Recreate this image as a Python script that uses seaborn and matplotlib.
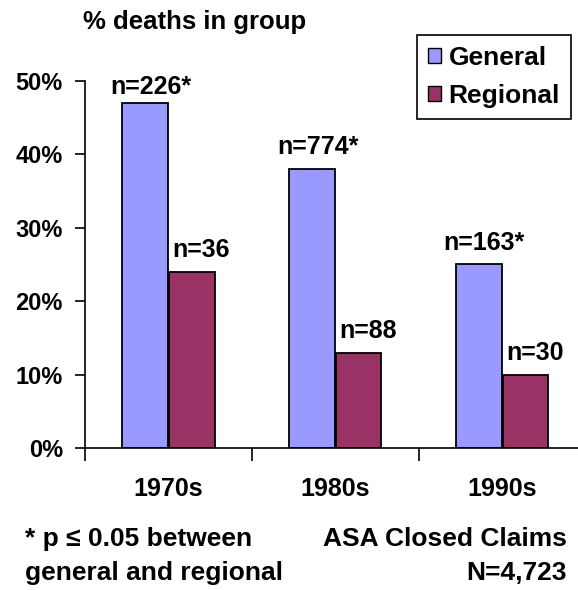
import pandas as pd
import matplotlib
matplotlib.use("Agg")
import matplotlib.pyplot as plt
import seaborn as sns
from matplotlib.patches import Patch

# data
decades = ["1970s", "1980s", "1990s"]
general_pct = [47, 38, 25]
regional_pct = [24, 13, 10]
general_n = ["n=226*", "n=774*", "n=163*"]
regional_n = ["n=36", "n=88", "n=30"]
groups = ["General", "Regional"]
colors = ["#9999FF", "#993366"]

df = pd.DataFrame({
    "decade": decades * 2,
    "pct": general_pct + regional_pct,
    "group": [groups[0]] * 3 + [groups[1]] * 3,
})

sns.set_style("white")
plt.rcParams["font.family"] = ["Liberation Sans", "DejaVu Sans"]
plt.rcParams["font.weight"] = "bold"
for k in ["text.color", "axes.labelcolor", "xtick.color", "ytick.color"]:
    plt.rcParams[k] = "black"

W, H = 578, 590
fig = plt.figure(figsize=(W / 100, H / 100), dpi=100)
# axes runs past the right edge like the original
ax = fig.add_axes([85 / W, 142 / H, 500.5 / W, 367.3 / H])

sns.barplot(data=df, x="decade", y="pct", hue="group", palette=colors,
            width=0.56, gap=0.02, edgecolor="black", linewidth=1.3,
            saturation=1, ax=ax, legend=False)

# n labels over the bars (slightly right of centre, as in the original)
for cont, labs, dx in zip(ax.containers, [general_n, regional_n], [4, 7]):
    for i, (bar, lab) in enumerate(zip(cont.patches, labs)):
        dy = 3 if bar.get_height() > 45 else 7
        ax.annotate(lab, (bar.get_x() + bar.get_width() / 2, bar.get_height()),
                    xytext=(dx, dy), textcoords="offset points",
                    ha="center", va="bottom", fontsize=18, fontweight="bold",
                    annotation_clip=False)

ax.set_xlim(-0.5, 2.5)
ax.set_ylim(0, 50)
ax.set_yticks([0, 10, 20, 30, 40, 50])
ax.set_yticklabels([f"{v}%" for v in [0, 10, 20, 30, 40, 50]])
ax.set_xlabel("")
ax.set_ylabel("")
sns.despine(ax=ax)
for s in ["left", "bottom"]:
    ax.spines[s].set_linewidth(1.2)
    ax.spines[s].set_color("black")

ax.tick_params(axis="y", direction="out", length=7, width=1.2, pad=9,
               labelsize=17, left=True)
# category labels without ticks, ticks at group boundaries
ax.tick_params(axis="x", which="major", length=0, pad=21, labelsize=18)
ax.set_xticks([-0.5, 0.5, 1.5], minor=True)
ax.tick_params(axis="x", which="minor", direction="out", length=9, width=1.2,
               bottom=True)

handles = [Patch(facecolor=c, edgecolor="black", linewidth=1) for c in colors]
leg = fig.legend(handles, groups, loc="upper left",
                 bbox_to_anchor=(417 / W, 1 - 35 / H), bbox_transform=fig.transFigure,
                 fancybox=False, edgecolor="black", framealpha=1,
                 handlelength=0.5, handleheight=0.5, handletextpad=0.3,
                 borderpad=0.4, labelspacing=0.55, borderaxespad=0,
                 prop={"size": 19, "weight": "bold"})
leg.get_frame().set_linewidth(1.2)

fig.text(83 / W, 1 - 22 / H, "% deaths in group", fontsize=18.5, fontweight="bold",
         ha="left", va="center")

fig.text(25 / W, 1 - 539 / H, "* p \u2264 0.05 between", fontsize=19,
         fontweight="bold", ha="left", va="center")
fig.text(25 / W, 1 - 573 / H, "general and regional", fontsize=19,
         fontweight="bold", ha="left", va="center")
fig.text(567 / W, 1 - 539 / H, "ASA Closed Claims", fontsize=19,
         fontweight="bold", ha="right", va="center")
fig.text(567 / W, 1 - 573 / H, "N=4,723", fontsize=19,
         fontweight="bold", ha="right", va="center")

fig.savefig("out.png", dpi=100)
